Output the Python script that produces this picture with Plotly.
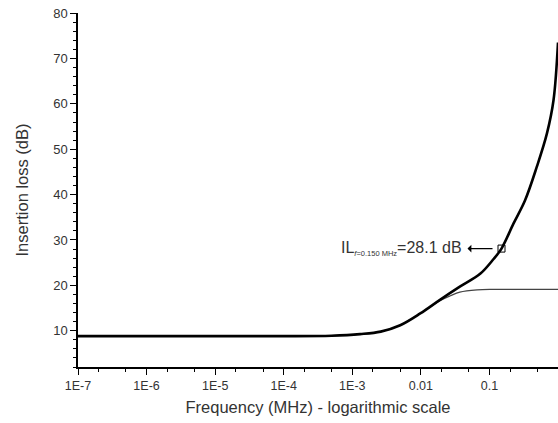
import plotly.graph_objects as go
import numpy as np

# Thick curve: total insertion loss (dB) vs frequency (MHz)
freq_total = [1e-7, 1e-6, 1e-5, 1e-4, 5e-4, 1.3e-3, 2.6e-3, 5e-3, 9.8e-3, 0.019, 0.037,
              0.074, 0.115, 0.15, 0.224, 0.33, 0.49, 0.69, 0.86, 1.0]
il_total = [8.8, 8.8, 8.8, 8.8, 8.9, 9.25, 9.8, 11.2, 13.8, 16.8, 19.7,
            22.6, 25.8, 28.1, 33.6, 38.7, 46.1, 53.5, 60.8, 73.5]

# Thin curve: insertion loss without the extra stage
freq_thin = [1e-7, 1e-6, 1e-5, 1e-4, 5e-4, 1.3e-3, 2.6e-3, 5e-3, 9.8e-3, 0.019, 0.027,
             0.037, 0.066, 0.115, 0.3, 1.0]
il_thin = [8.8, 8.8, 8.8, 8.8, 8.9, 9.25, 9.8, 11.2, 13.8, 16.6, 17.7,
           18.5, 19.0, 19.1, 19.1, 19.1]

marker_f = [0.15]
marker_il = [28.1]

x_tickvals = [1e-7, 1e-6, 1e-5, 1e-4, 1e-3, 1e-2, 1e-1, 1]
x_ticktext = ["1E-7", "1E-6", "1E-5", "1E-4", "1E-3", "0.01", "0.1", "1"]
y_tickvals = [10, 20, 30, 40, 50, 60, 70, 80]

font = "Liberation Sans, Arial, sans-serif"
tcol = "#333333"

fig = go.Figure()
fig.add_trace(go.Scatter(x=freq_thin, y=il_thin, mode="lines",
                         line=dict(color="#444444", width=1.2, shape="spline", smoothing=1.0),
                         showlegend=False, hoverinfo="skip"))
fig.add_trace(go.Scatter(x=freq_total, y=il_total, mode="lines",
                         line=dict(color="#000000", width=2.6, shape="spline", smoothing=1.0),
                         showlegend=False, hoverinfo="skip"))
fig.add_trace(go.Scatter(x=marker_f, y=marker_il, mode="markers",
                         marker=dict(symbol="square-open", size=7, color="#000000",
                                     line=dict(width=1)),
                         showlegend=False, hoverinfo="skip"))

fig.add_annotation(x=np.log10(marker_f[0]), y=marker_il[0], xref="x", yref="y",
                   ax=-37, ay=0, axref="pixel", ayref="pixel",
                   showarrow=True, arrowhead=2, arrowsize=1.2, arrowwidth=1.3,
                   arrowcolor="#000000", standoff=9, startstandoff=0,
                   arrowside="start", text=" ")
fig.add_annotation(x=np.log10(marker_f[0]), y=marker_il[0], xref="x", yref="y",
                   xanchor="right", yanchor="middle", xshift=-38, yshift=0,
                   showarrow=False,
                   text="IL<sub><span style='font-size:7.5px'><i>f</i>=0.150 MHz</span></sub>=28.1 dB",
                   font=dict(family=font, size=16, color=tcol))

fig.update_xaxes(type="log", range=[-7, 0], tickvals=x_tickvals, ticktext=x_ticktext,
                 ticks="outside", ticklen=6, tickwidth=1.3, tickcolor="#000000",
                 showline=True, linecolor="#000000", linewidth=1.5,
                 showgrid=False, zeroline=False, automargin=False,
                 minor=dict(ticks="outside", ticklen=3, tickwidth=1, tickcolor="#000000",
                            showgrid=False),
                 tickfont=dict(family=font, size=12.5, color=tcol),
                 title=dict(text="Frequency (MHz) - logarithmic scale",
                            font=dict(family=font, size=16.5, color=tcol), standoff=10))
fig.update_yaxes(range=[2, 80.03], tickvals=y_tickvals,
                 ticks="outside", ticklen=6, tickwidth=1.3, tickcolor="#000000",
                 showline=True, linecolor="#000000", linewidth=1.5,
                 showgrid=False, zeroline=False, automargin=False,
                 minor=dict(ticks="outside", ticklen=3, tickwidth=1, tickcolor="#000000",
                            dtick=2, tick0=0, showgrid=False),
                 tickfont=dict(family=font, size=13, color=tcol),
                 title=dict(text="Insertion loss (dB)",
                            font=dict(family=font, size=16.5, color=tcol), standoff=20))

fig.update_layout(width=558, height=423, margin=dict(l=78, r=0, t=13, b=56),
                  plot_bgcolor="white", paper_bgcolor="white")

# remove the page's default body margin so the figure fills the window exactly
fig.write_html("out.html", config={"displayModeBar": False},
               post_script="document.body.style.margin='0';document.body.style.overflow='hidden';")
